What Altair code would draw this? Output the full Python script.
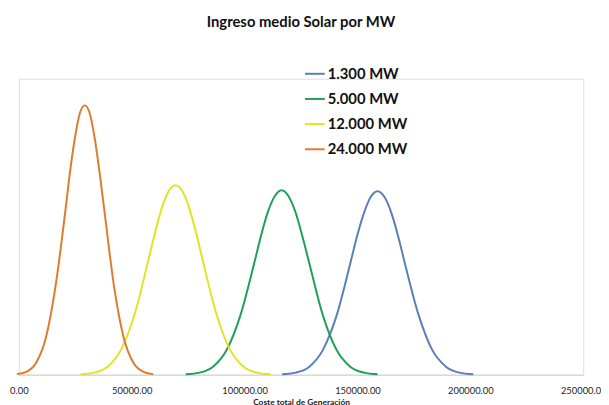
import altair as alt
import pandas as pd

series_names = ["1.300 MW", "5.000 MW", "12.000 MW", "24.000 MW"]
series_colors = ["#5A7FB6", "#1FA05A", "#E2E321", "#E07A2C"]

# Coste total de Generación (x) and relative density height (y)
x_1300 = [116600, 122600, 128700, 134700, 140800, 146800, 149800, 152900, 155900, 158900,
          161900, 165000, 168000, 171000, 177100, 183100, 189200, 195200, 201300]
y_1300 = [0.4, 2.1, 8.2, 25.2, 60.4, 112.8, 140.4, 164.1, 180.3, 186,
          180.3, 164.1, 140.4, 112.8, 60.4, 25.2, 8.2, 2.1, 0.4]

x_5000 = [73900, 80000, 86000, 92100, 98200, 104300, 107300, 110300, 113400, 116400,
          119400, 122500, 125500, 128600, 134600, 140700, 146800, 152900, 158900]
y_5000 = [0.4, 2.1, 8.2, 25.3, 60.7, 113.4, 141.1, 165.0, 181.2, 187,
          181.2, 165.0, 141.1, 113.4, 60.7, 25.3, 8.2, 2.1, 0.4]

x_12000 = [27400, 33400, 39400, 45400, 51400, 57400, 60400, 63400, 66400, 69400,
           72400, 75400, 78400, 81400, 87400, 93400, 99400, 105400, 111400]
y_12000 = [0.4, 2.1, 8.4, 26.0, 62.3, 116.4, 144.9, 169.4, 186.1, 192,
           186.1, 169.4, 144.9, 116.4, 62.3, 26.0, 8.4, 2.1, 0.4]

x_24000 = [-900, 3300, 7600, 11900, 16200, 20600, 22700, 24900, 27000, 29200,
           31400, 33500, 35700, 37900, 42200, 46500, 50800, 55200, 59500]
y_24000 = [0.6, 3, 12, 37, 89, 166, 206, 241, 265, 273,
           265, 241, 206, 166, 89, 37, 12, 3, 0.6]

x_ticks = [0, 50000, 100000, 150000, 200000, 250000]

rows = []
for name, xs, ys in zip(series_names,
                        [x_1300, x_5000, x_12000, x_24000],
                        [y_1300, y_5000, y_12000, y_24000]):
    for i, (xv, yv) in enumerate(zip(xs, ys)):
        rows.append({"serie": name, "coste": xv, "dens": yv, "i": i})
df = pd.DataFrame(rows)

FONT = "Lato"

chart = alt.Chart(df).mark_line(
    interpolate="monotone", strokeWidth=2, clip=False
).encode(
    x=alt.X("coste:Q",
            scale=alt.Scale(domain=[0, 250000], nice=False, zero=False),
            axis=alt.Axis(values=x_ticks, format=".2f", title="Coste total de Generación",
                          grid=False, ticks=False, labelPadding=11,
                          labelFontSize=9.5, labelColor="#222222", labelFont=FONT,
                          titleFont=FONT, titleFontSize=8.5, titleFontWeight="bold",
                          titleColor="#222222", titlePadding=3,
                          domainColor="#D9D9D9", domainWidth=1.5,
                          labelOverlap=False, labelFlush=False)),
    y=alt.Y("dens:Q", scale=alt.Scale(domain=[0, 300], nice=False), axis=None),
    color=alt.Color("serie:N",
                    scale=alt.Scale(domain=series_names, range=series_colors),
                    legend=alt.Legend(title=None, orient="none", legendX=289, legendY=-16,
                                      symbolType="stroke", symbolSize=400,
                                      symbolStrokeWidth=2, labelFont=FONT,
                                      labelFontSize=15, labelFontWeight="bold",
                                      labelColor="#111111", rowPadding=6.5,
                                      labelOffset=2, padding=0)),
    order="i:Q",
).properties(
    width=572,
    height=300,
    title=alt.TitleParams("Ingreso medio Solar por MW", font=FONT, fontSize=15,
                          fontWeight="bold", color="#111111", anchor="middle",
                          offset=33),
    autosize=alt.AutoSizeParams(type="none"),
    padding={"left": 11, "top": 69, "right": 18, "bottom": 28},
).configure_view(stroke=None).configure(background="white")

chart.save("out.html", embed_options={"renderer": "svg", "actions": False})
